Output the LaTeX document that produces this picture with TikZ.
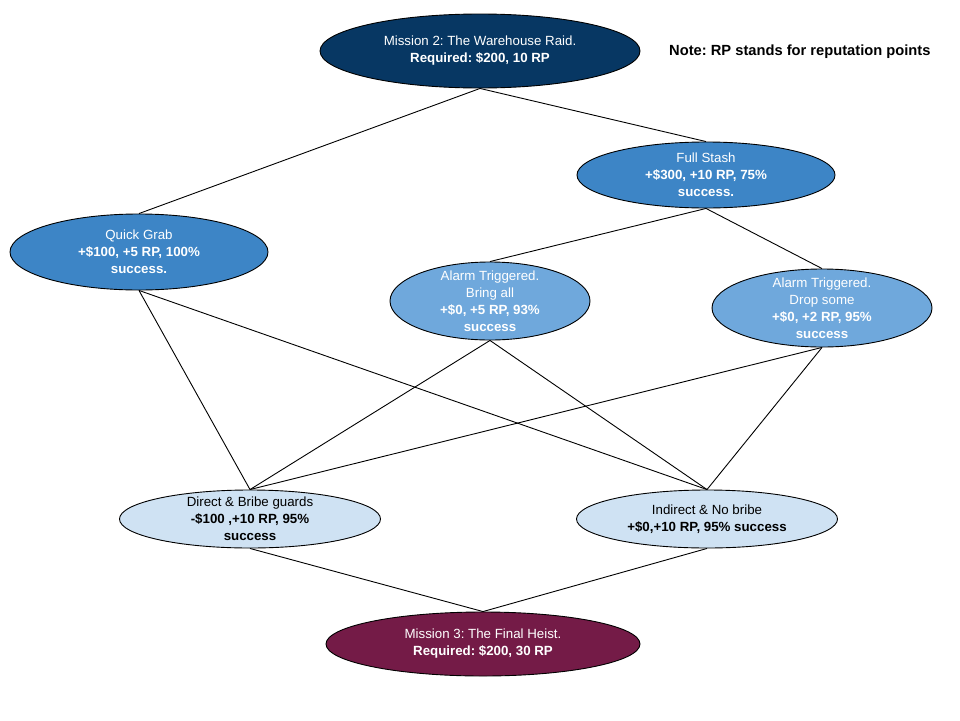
\documentclass[tikz,border=0pt]{standalone}
\usepackage{fontspec}
\setmainfont{Liberation Sans}
\frenchspacing
\usetikzlibrary{shapes.geometric}
\definecolor{navy}{HTML}{073763}
\definecolor{midblue}{HTML}{3D85C6}
\definecolor{softblue}{HTML}{6FA8DC}
\definecolor{paleblue}{HTML}{CFE2F3}
\definecolor{plum}{HTML}{741B47}
\tikzset{
  oval/.style={ellipse, draw=black, line width=0.9pt, inner sep=0pt},
  txt/.style={align=center, font=\fontsize{13.3}{17}\selectfont, inner sep=0pt},
  link/.style={draw=black, line width=0.9pt}
}
\begin{document}
\begin{tikzpicture}[x=1pt,y=-1pt]
\useasboundingbox (0,0) rectangle (960,720);
\fill[white] (0,0) rectangle (960,720);

% ellipses
\node[oval, fill=navy, minimum width=320pt, minimum height=74pt] (m2) at (480,51) {};
\node[oval, fill=midblue, minimum width=258pt, minimum height=66pt] (full) at (706,175) {};
\node[oval, fill=midblue, minimum width=258pt, minimum height=76pt] (quick) at (139,252) {};
\node[oval, fill=softblue, minimum width=200pt, minimum height=78pt] (bring) at (490,301) {};
\node[oval, fill=softblue, minimum width=220pt, minimum height=78pt] (drop) at (822,308) {};
\node[oval, fill=paleblue, minimum width=261pt, minimum height=58pt] (direct) at (250,519) {};
\node[oval, fill=paleblue, minimum width=261pt, minimum height=58pt] (indirect) at (707,519) {};
\node[oval, fill=plum, minimum width=314pt, minimum height=64pt] (m3) at (483,644) {};

% labels
\node[txt, text=white] (m2t) at (m2) {Mission 2: The Warehouse Raid.\\\textbf{Required: \$200, 10 RP}};
\node[txt, text=white] (fullt) at (full) {Full Stash\\\textbf{+\$300, +10 RP, 75\%}\\\textbf{success.}};
\node[txt, text=white] (quickt) at (quick) {Quick Grab\\\textbf{+\$100, +5 RP, 100\%}\\\textbf{success.}};
\node[txt, text=white] (bringt) at (bring) {Alarm Triggered.\\Bring all\\\textbf{+\$0, +5 RP, 93\%}\\\textbf{success}};
\node[txt, text=white] (dropt) at (drop) {Alarm Triggered.\\Drop some\\\textbf{+\$0, +2 RP, 95\%}\\\textbf{success}};
\node[txt, text=black] (directt) at (direct) {Direct \& Bribe guards\\\textbf{-\$100 ,+10 RP, 95\%}\\\textbf{success}};
\node[txt, text=black] (indirectt) at (indirect) {Indirect \& No bribe\\\textbf{+\$0,+10 RP, 95\% success}};
\node[txt, text=white] (m3t) at (m3) {Mission 3: The Final Heist.\\\textbf{Required: \$200, 30 RP}};

\node[txt, font=\fontsize{14.7}{17}\selectfont\bfseries, anchor=west] (note) at (669,52) {Note: RP stands for reputation points};

% connectors
\draw[link] (m2.south) -- (quick.north);
\draw[link] (m2.south) -- (full.north);
\draw[link] (full.south) -- (bring.north);
\draw[link] (full.south) -- (drop.north);
\draw[link] (quick.south) -- (direct.north);
\draw[link] (quick.south) -- (indirect.north);
\draw[link] (bring.south) -- (direct.north);
\draw[link] (bring.south) -- (indirect.north);
\draw[link] (drop.south) -- (direct.north);
\draw[link] (drop.south) -- (indirect.north);
\draw[link] (direct.south) -- (m3.north);
\draw[link] (indirect.south) -- (m3.north);
\end{tikzpicture}
\end{document}
